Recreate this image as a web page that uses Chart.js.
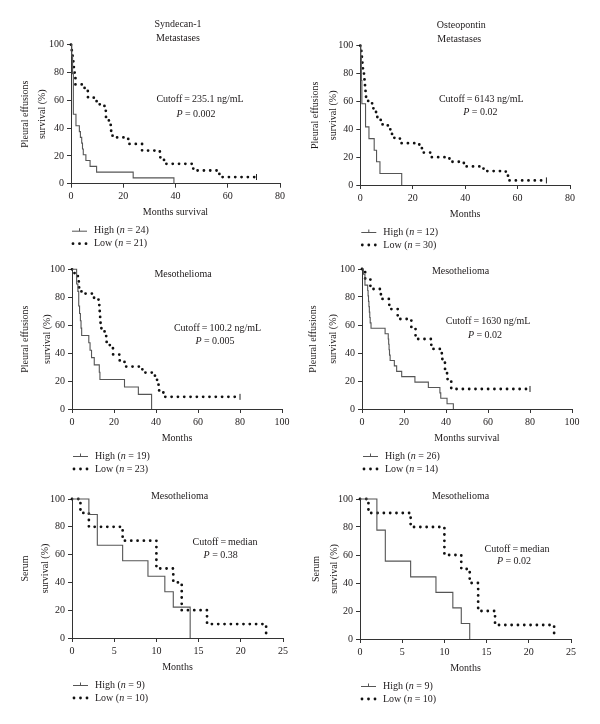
<!DOCTYPE html>
<html>
<head>
<meta charset="utf-8">
<script src="https://cdn.jsdelivr.net/npm/chart.js@4.4.1/dist/chart.umd.min.js"></script>
<style>
  html, body { margin: 0; padding: 0; background: #fff; }
  #fig { position: relative; width: 600px; height: 724px; }
  canvas { position: absolute; }
</style>
</head>
<body>
<div id="fig">
  <canvas id="c1"></canvas>
  <canvas id="c2"></canvas>
  <canvas id="c3"></canvas>
  <canvas id="c4"></canvas>
  <canvas id="c5"></canvas>
  <canvas id="c6"></canvas>
</div>
<script>
// Kaplan-Meier curves: time (months) and survival (%) for each group
// Syndecan-1, pleural effusions, metastases
const synMetHighT = [0, 0.3, 0.6, 0.9, 1.9, 3.2, 3.6, 4.1, 4.4, 4.7, 5.7, 7.3, 9.8, 23.8, 39.4];
const synMetHighS = [100, 91.7, 79.2, 50, 41.7, 37.5, 33.3, 29.2, 25, 20.8, 16.7, 12.5, 8.3, 4.2, 0];
const synMetLowT = [0, 0.3, 0.6, 0.9, 1.1, 1.4, 1.7, 5.2, 6.5, 9.8, 12.8, 13.4, 14.5, 15.2, 15.9, 21.9, 27.2, 34, 35.6, 46.8, 56.8, 71];
const synMetLowS = [100, 95.2, 90.5, 85.7, 81, 76.2, 71.4, 66.7, 61.9, 57.1, 52.4, 47.6, 42.9, 38.1, 33.3, 28.6, 23.8, 19, 14.3, 9.5, 4.8, 4.8];

// Osteopontin, pleural effusions, metastases
const ostMetHighT = [0, 0.2, 0.4, 0.6, 2, 3.3, 5.3, 6.2, 7.5, 15.8];
const ostMetHighS = [100, 91.7, 75, 58.3, 41.7, 33.3, 25, 16.7, 8.3, 0];
const ostMetLowT = [0, 0.2, 0.4, 0.6, 0.8, 1, 1.2, 1.4, 1.6, 1.8, 2, 2.2, 3, 4.5, 5, 6, 6.5, 8.5, 10.5, 12, 13, 15.5, 22.5, 23.5, 27, 34, 39.5, 47, 55.5, 56.5, 71];
const ostMetLowS = [100, 96.7, 93.3, 90, 86.7, 83.3, 80, 76.7, 73.3, 70, 66.7, 63.3, 60, 56.7, 53.3, 50, 46.7, 43.3, 40, 36.7, 33.3, 30, 26.7, 23.3, 20, 16.7, 13.3, 10, 6.7, 3.3, 3.3];

// Syndecan-1, pleural effusions, mesothelioma
const synMesoHighT = [0, 2.2, 2.8, 3.2, 3.6, 4, 4.3, 4.6, 8, 8.6, 9.3, 10.6, 13, 13.3, 25, 31.6, 37.9];
const synMesoHighS = [100, 89.5, 84.2, 73.7, 68.4, 63.2, 57.9, 52.6, 47.4, 42.1, 36.8, 31.6, 26.3, 21.1, 15.8, 10.5, 0];
const synMesoLowT = [0, 1.2, 2.8, 3.3, 4.5, 10.5, 13, 13.2, 13.4, 13.6, 14, 15.5, 16.5, 18, 19.5, 22.5, 25, 33.5, 39.5, 40.5, 41.5, 43.5, 80];
const synMesoLowS = [100, 95.7, 91.3, 87, 82.6, 78.3, 73.9, 69.6, 65.2, 60.9, 56.5, 52.2, 47.8, 43.5, 39.1, 34.8, 30.4, 26.1, 21.7, 17.4, 13, 8.7, 8.7];

// Osteopontin, pleural effusions, mesothelioma
const ostMesoHighT = [0, 0.7, 1.4, 2.7, 2.9, 3.1, 3.3, 3.5, 3.7, 3.9, 4.3, 11, 12.5, 12.7, 12.9, 13.1, 13.4, 15.4, 16.5, 18.9, 25.2, 31.6, 37.1, 37.5, 40.5, 43.5];
const ostMesoHighS = [100, 96.2, 88.5, 84.6, 80.8, 76.9, 73.1, 69.2, 65.4, 61.5, 57.7, 53.8, 50, 46.2, 42.3, 38.5, 34.6, 30.8, 26.9, 23.1, 19.2, 15.4, 11.5, 7.7, 3.8, 0];
const ostMesoLowT = [0, 1.5, 4, 9, 13, 17, 23.5, 25.5, 33, 38, 39.5, 40.5, 42.5, 80];
const ostMesoLowS = [100, 92.9, 85.7, 78.6, 71.4, 64.3, 57.1, 50, 42.9, 35.7, 28.6, 21.4, 14.3, 14.3];

// Syndecan-1, serum, mesothelioma
const synSerHighT = [0, 2, 3, 6, 9, 11, 12, 14];
const synSerHighS = [100, 88.9, 66.7, 55.6, 44.4, 33.3, 22.2, 0];
const synSerLowT = [0, 1, 2, 6, 10, 12, 13, 16, 23];
const synSerLowS = [100, 90, 80, 70, 50, 40, 20, 10, 0];

// Osteopontin, serum, mesothelioma
const ostSerHighT = [0, 2, 3, 6, 9, 11, 12, 13];
const ostSerHighS = [100, 77.8, 55.6, 44.4, 33.3, 22.2, 11.1, 0];
const ostSerLowT = [0, 1, 6, 10, 12, 13, 14, 16, 23];
const ostSerLowS = [100, 90, 80, 60, 50, 40, 20, 10, 0];

// censored end points of the low groups
const censorT = [[71], [71], [80], [80], [], []];
const censorS = [[4.8], [3.3], [8.7], [14.3], [], []];

const groups = ['High', 'Low'];
const highN = [24, 12, 19, 26, 9, 9];
const lowN = [21, 30, 23, 14, 10, 10];
const panelTitles = [['Syndecan-1', 'Metastases'], ['Osteopontin', 'Metastases'], ['Mesothelioma'], ['Mesothelioma'], ['Mesothelioma'], ['Mesothelioma']];
const cutoffs = ['235.1 ng/mL', '6143 ng/mL', '100.2 ng/mL', '1630 ng/mL', 'median', 'median'];
const pValues = ['0.002', '0.02', '0.005', '0.02', '0.38', '0.02'];
const xTitles = ['Months survival', 'Months', 'Months', 'Months survival', 'Months', 'Months'];
const yTitles = [['Pleural effusions', 'survival (%)'], ['Pleural effusions', 'survival (%)'],
                 ['Pleural effusions', 'survival (%)'], ['Pleural effusions', 'survival (%)'],
                 ['Serum', 'survival (%)'], ['Serum', 'survival (%)']];
const xMax = [80, 80, 100, 100, 25, 25];
const xStep = [20, 20, 20, 20, 5, 5];
const yTicks = [0, 20, 40, 60, 80, 100];

const curves = [
  [synMetHighT, synMetHighS, synMetLowT, synMetLowS],
  [ostMetHighT, ostMetHighS, ostMetLowT, ostMetLowS],
  [synMesoHighT, synMesoHighS, synMesoLowT, synMesoLowS],
  [ostMesoHighT, ostMesoHighS, ostMesoLowT, ostMesoLowS],
  [synSerHighT, synSerHighS, synSerLowT, synSerLowS],
  [ostSerHighT, ostSerHighS, ostSerLowT, ostSerLowS]
];

// layout: plot area in page pixels [left, top, right, bottom], y title line height / offset, note offsets
const layout = [
  { col: 0, row: 0, area: [71, 44.7, 280, 183.7], yLh: 17, yPad: 16.5, titles: [[107, -20], [107, -6]], cut: [129, 55], p: [125, 70] },
  { col: 1, row: 0, area: [360.3, 45.7, 570, 185], yLh: 18, yPad: 6, titles: [[101, -20.7], [99, -6.7]], cut: [121, 53.3], p: [120, 67] },
  { col: 0, row: 1, area: [72, 269.3, 282, 409], yLh: 22, yPad: 14, titles: [[111, 4.7]], cut: [145.5, 59.4], p: [143, 72.4] },
  { col: 1, row: 1, area: [362, 269, 572, 409], yLh: 20, yPad: 3, titles: [[98.5, 2]], cut: [126, 52.7], p: [123, 66] },
  { col: 0, row: 2, area: [72, 499, 283, 638], yLh: 20, yPad: 15, titles: [[107.5, -2.3]], cut: [153, 43.3], p: [148.7, 56] },
  { col: 1, row: 2, area: [360, 499, 571, 639], yLh: 18, yPad: 7, titles: [[100.5, -2.3]], cut: [157, 50.3], p: [154, 62.7] }
];
const rowTop = [0, 252, 480];
const rowH = [252, 228, 244];

const ink = '#1e1a1b';
const axisColor = '#333';
const highColor = '#555';
const serif = '"Liberation Serif", "DejaVu Serif", serif';

function pts(t, s) { return t.map((v, i) => ({ x: v, y: s[i] })); }
function fnt(it) { return (it ? 'italic ' : '') + '10px ' + serif; }

function drawRich(ctx, parts, x, y, center) {
  let w = 0;
  parts.forEach(p => { ctx.font = fnt(p.i); w += ctx.measureText(p.t).width; });
  let cx = center ? x - w / 2 : x;
  parts.forEach(p => {
    ctx.font = fnt(p.i);
    ctx.fillText(p.t, cx, y);
    cx += ctx.measureText(p.t).width;
  });
}

function makeNotes(k) {
  const lay = layout[k];
  return {
    id: 'notes' + k,
    afterDraw(chart) {
      const ctx = chart.ctx, a = chart.chartArea;
      ctx.save();
      ctx.fillStyle = ink;
      ctx.textAlign = 'left';
      ctx.textBaseline = 'middle';
      panelTitles[k].forEach((t, i) => drawRich(ctx, [{ t: t }], a.left + lay.titles[i][0], a.top + lay.titles[i][1], true));
      drawRich(ctx, [{ t: 'Cutoff\u2009=\u2009' + cutoffs[k] }], a.left + lay.cut[0], a.top + lay.cut[1], true);
      drawRich(ctx, [{ t: 'P', i: 1 }, { t: ' = ' + pValues[k] }], a.left + lay.p[0], a.top + lay.p[1], true);

      // legend
      const lx = a.left + 1, y1 = a.bottom + 47, y2 = a.bottom + 60;
      ctx.strokeStyle = highColor;
      ctx.lineWidth = 1;
      ctx.beginPath();
      ctx.moveTo(lx, y1 + 0.5); ctx.lineTo(lx + 15, y1 + 0.5);
      ctx.moveTo(lx + 7.5, y1 - 2.5); ctx.lineTo(lx + 7.5, y1 + 0.5);
      ctx.stroke();
      ctx.fillStyle = '#111';
      [1, 7.5, 14].forEach(d => { ctx.beginPath(); ctx.arc(lx + d, y2, 1.4, 0, 2 * Math.PI); ctx.fill(); });
      ctx.fillStyle = ink;
      drawRich(ctx, [{ t: groups[0] + ' (' }, { t: 'n', i: 1 }, { t: ' = ' + highN[k] + ')' }], lx + 22, y1, false);
      drawRich(ctx, [{ t: groups[1] + ' (' }, { t: 'n', i: 1 }, { t: ' = ' + lowN[k] + ')' }], lx + 22, y2, false);
      ctx.restore();
    }
  };
}

layout.forEach((lay, k) => {
  const cv = document.getElementById('c' + (k + 1));
  const left = lay.col * 300, top = rowTop[lay.row], h = rowH[lay.row];
  cv.width = 300; cv.height = h;
  cv.style.left = left + 'px'; cv.style.top = top + 'px';
  const [L, T, R, B] = lay.area;
  const [hT, hS, lT, lS] = curves[k];
  const tickFont = { family: serif, size: 10 };

  new Chart(cv, {
    type: 'scatter',
    data: {
      datasets: [
        { label: groups[0], data: pts(hT, hS), showLine: true, stepped: true, borderColor: highColor,
          borderWidth: 1.1, pointRadius: 0, clip: false },
        { label: groups[1], data: pts(lT, lS), showLine: true, stepped: true, borderColor: '#111',
          borderWidth: 2.8, borderDash: [0.01, 6.3], borderCapStyle: 'round', pointRadius: 0, clip: false },
        { label: 'censored', data: pts(censorT[k], censorS[k]), showLine: false, pointStyle: 'line',
          rotation: 90, pointRadius: 3, borderColor: '#222', borderWidth: 1, clip: false }
      ]
    },
    options: {
      responsive: false,
      animation: false,
      devicePixelRatio: 1,
      layout: { padding: { left: 0, top: T - top, right: left + 300 - R, bottom: h - (B - top) - 36 } },
      scales: {
        x: {
          type: 'linear', min: 0, max: xMax[k],
          ticks: { stepSize: xStep[k], font: tickFont, color: ink, padding: 3, maxRotation: 0 },
          grid: { drawOnChartArea: false, tickLength: 4, color: axisColor },
          border: { color: axisColor, width: 1 },
          title: { display: true, text: xTitles[k], color: ink, font: { family: serif, size: 10, lineHeight: 1.2 }, padding: { top: 0, bottom: 1 } },
          afterFit: s => { s.height = 36; }
        },
        y: {
          type: 'linear', min: 0, max: 100,
          afterBuildTicks: s => { s.ticks = yTicks.map(v => ({ value: v })); },
          ticks: { font: tickFont, color: ink, padding: 3 },
          grid: { drawOnChartArea: false, tickLength: 4, color: axisColor },
          border: { color: axisColor, width: 1 },
          title: { display: true, text: yTitles[k], color: ink, font: { family: serif, size: 10, lineHeight: lay.yLh / 10 }, padding: { top: lay.yPad, bottom: 0 } },
          afterFit: s => { s.width = L - left; }
        }
      },
      plugins: { legend: { display: false }, tooltip: { enabled: false } }
    },
    plugins: [makeNotes(k)]
  });
});
</script>
</body>
</html>
